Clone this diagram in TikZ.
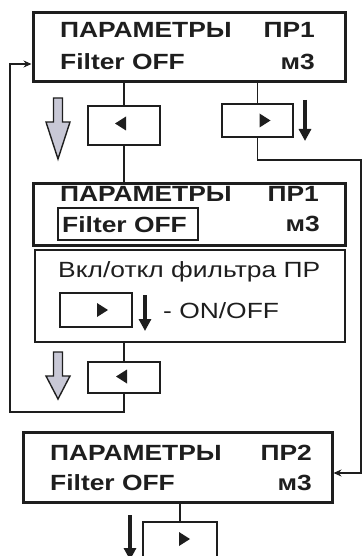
\documentclass[tikz,border=0pt]{standalone}
\usepackage{fontspec}
\setmainfont{Liberation Sans}
\newfontfamily\disp[FakeStretch=1.2]{Liberation Sans}
\usetikzlibrary{arrows.meta,calc}
\definecolor{ink}{HTML}{1E1E1E}
\definecolor{arrowgray}{HTML}{C8C8D6}
\tikzset{
  bigbox/.style={draw=ink, line width=3pt, rectangle, inner sep=0pt},
  thinbox/.style={draw=ink, line width=1.3pt, rectangle, inner sep=0pt},
  keybox/.style={draw=ink, line width=1.3pt, rectangle, inner sep=0pt},
  btxt/.style={font=\disp\fontsize{22}{24}\selectfont\bfseries, text=ink, inner sep=0pt},
  rtxt/.style={font=\disp\fontsize{22}{24}\selectfont, text=ink, inner sep=0pt},
  conn/.style={draw=ink, line width=1.3pt},
  inarrow/.style={conn, -{Stealth[length=8pt,width=7pt]}},
  downarrow/.style={draw=ink, line width=3.4pt, -{Triangle[length=12pt,width=12pt]}},
  grayarrow/.style={draw=ink, line width=1.4pt, fill=arrowgray, line join=miter},
  tri/.style={fill=ink, draw=none},
}
\begin{document}
\begin{tikzpicture}[x=1pt,y=-1pt]
\useasboundingbox (0,0) rectangle (363,556);
% ---- main boxes
\node[bigbox, minimum width=312pt, minimum height=69pt] (b1) at (189,47.5) {};
\node[bigbox, minimum width=312pt, minimum height=62pt] (b2) at (189,214) {};
\node[thinbox, minimum width=310pt, minimum height=92pt] (b3) at (190,296) {};
\node[bigbox, minimum width=309pt, minimum height=70pt] (b4) at (177.5,467) {};
% ---- key boxes
\node[keybox, minimum width=72pt, minimum height=39pt] (s1) at (124,125.5) {};
\node[keybox, minimum width=71pt, minimum height=33pt] (s2) at (257.5,120.5) {};
\node[keybox, minimum width=72pt, minimum height=34pt] (s3) at (96,310) {};
\node[keybox, minimum width=72pt, minimum height=31pt] (s4) at (124,377.5) {};
\node[keybox, minimum width=74pt, minimum height=36pt] (s5) at (180,540) {};
% ---- triangles in key boxes
\fill[tri] ($(s1.center)+(-9,-2)$) -- ++(11,-7) -- ++(0,14) -- cycle;
\fill[tri] ($(s2.center)+(13,0)$) -- ++(-11,-7) -- ++(0,14) -- cycle;
\fill[tri] ($(s3.center)+(12,0)$) -- ++(-11,-7) -- ++(0,14) -- cycle;
\fill[tri] ($(s4.center)+(-8,-1)$) -- ++(11,-7) -- ++(0,14) -- cycle;
\fill[tri] ($(s5.center)+(10,-1)$) -- ++(-11,-7) -- ++(0,14) -- cycle;
% ---- texts box 1
\node[btxt, anchor=base west] (t11) at (60,38) {ПАРАМЕТРЫ};
\node[btxt, anchor=base east] (t12) at (315,38) {ПР1};
\node[btxt, anchor=base west] (t13) at (60,69.5) {Filter OFF};
\node[btxt, anchor=base east] (t14) at (315,69.5) {м3};
% ---- texts box 2
\node[btxt, anchor=base west] (t21) at (60,201) {ПАРАМЕТРЫ};
\node[btxt, anchor=base east] (t22) at (319,201) {ПР1};
\node[btxt, anchor=base west] (t23) at (62,232) {Filter OFF};
\node[btxt, anchor=base east] (t24) at (320,231) {м3};
\node[thinbox, minimum width=140pt, minimum height=32pt] (fbox) at (128,224) {};
% ---- texts box 3
\node[rtxt, anchor=base west] (t31) at (58,277) {Вкл/откл фильтра ПР};
\node[rtxt, anchor=base west] (t32) at (163,318) {- ON/OFF};
% ---- texts box 4
\node[btxt, anchor=base west] (t41) at (50,460) {ПАРАМЕТРЫ};
\node[btxt, anchor=base east] (t42) at (312,460) {ПР2};
\node[btxt, anchor=base west] (t43) at (50,490) {Filter OFF};
\node[btxt, anchor=base east] (t44) at (312,490) {м3};
% ---- coordinates for black down arrows
\coordinate (d1a) at (305,100); \coordinate (d1b) at (305,141);
\coordinate (d2a) at (145,295); \coordinate (d2b) at (145,331);
\coordinate (d3a) at (130,515); \coordinate (d3b) at (130,560);
\draw[downarrow] (d1a) -- (d1b);
\draw[downarrow] (d2a) -- (d2b);
\draw[downarrow] (d3a) -- (d3b);
% ---- gray hollow arrows
\draw[grayarrow] (53.5,98) -- (62.5,98) -- (62.5,122) -- (70,122) -- (58,159) -- (46,122) -- (53.5,122) -- cycle;
\draw[grayarrow] (53.5,352) -- (62.5,352) -- (62.5,376) -- (70,376) -- (58,399) -- (46,376) -- (53.5,376) -- cycle;
% ---- connectors
\draw[conn] (b1.south -| s1.north) -- (s1.north);
\draw[conn] (s1.south) -- (b2.north -| s1.south);
\draw[conn] (b1.south -| s2.north) -- (s2.north);
\draw[conn] (b3.south -| s4.north) -- (s4.north);
\draw[conn] (b4.south -| s5.north) -- (s5.north);
\coordinate (r1) at (257.5,160);
\coordinate (r2) at (361,160);
\coordinate (r3) at (361,473);
\draw[inarrow] (s2.south) -- (r1) -- (r2) -- (r3) -- (r3 -| b4.east);
\coordinate (l1) at (124,412);
\coordinate (l2) at (10,412);
\coordinate (l3) at (10,64);
\draw[inarrow] (s4.south) -- (l1) -- (l2) -- (l3) -- (l3 -| b1.west);
\end{tikzpicture}
\end{document}
